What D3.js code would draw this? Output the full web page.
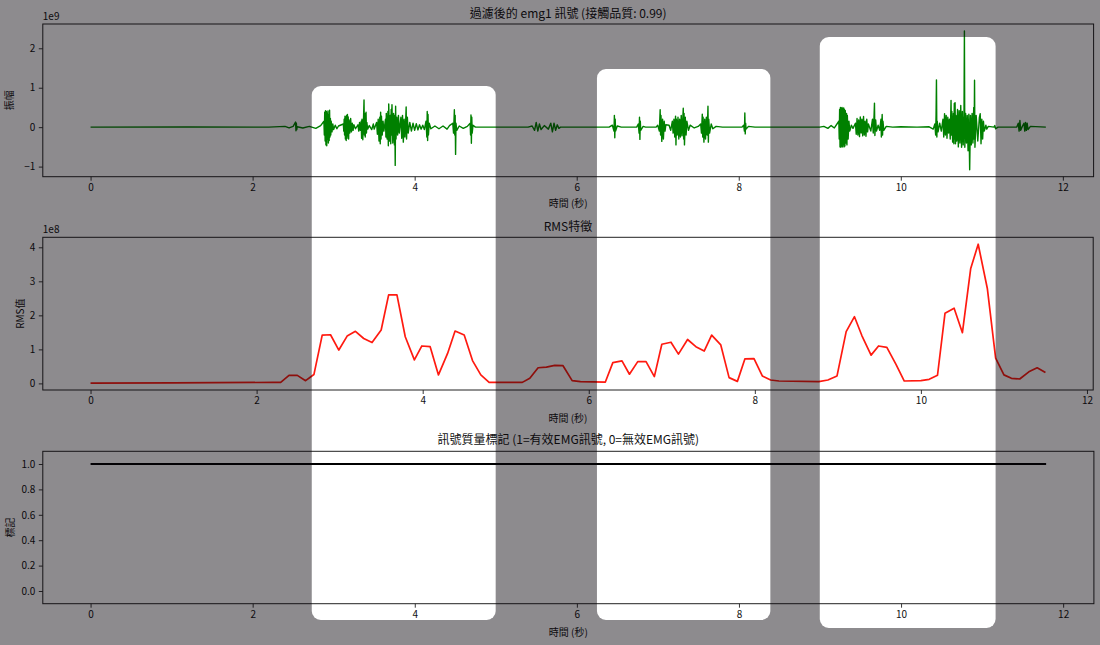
<!DOCTYPE html>
<html><head><meta charset="utf-8">
<script src="https://cdn.jsdelivr.net/npm/d3@7"></script>
<style>
body{margin:0;background:#fff;}
text{font-family:"Noto Sans CJK TC","Noto Sans",sans-serif;fill:#111;}
</style>
</head><body>
<svg id="chart" width="1100" height="645"></svg>
<script>
// ---------------- DATA ----------------
// filtered emg1 signal: [time (s), amplitude (×1e9)]
const emgSignal = [
[0,0],[1.2,0.005],[2.2,0],[2.40,0.02],[2.45,-0.02],[2.50,0.02],
[2.53,0.13],[2.535,-0.09],[2.54,0.1],[2.545,-0.06],[2.55,0.01],
[2.62,-0.02],[2.7,0.02],[2.78,-0.03],[2.84,0.04],
[2.88,0.15],[2.885,-0.2],[2.89,0.38],[2.895,-0.35],[2.90,0.42],[2.905,-0.45],[2.91,0.4],[2.915,-0.47],[2.92,0.35],[2.925,-0.3],[2.93,0.41],[2.935,-0.4],[2.94,0.3],[2.945,-0.34],[2.95,0.43],[2.955,-0.25],[2.96,0.22],[2.965,-0.2],[2.97,0.15],[2.98,-0.12],[2.99,0.08],[3.0,-0.06],[3.02,0.05],[3.04,-0.04],[3.06,0.03],
[3.12,0.08],[3.125,-0.1],[3.13,0.2],[3.135,-0.2],[3.14,0.28],[3.145,-0.3],[3.15,0.25],[3.155,-0.34],[3.16,0.3],[3.165,-0.28],[3.17,0.32],[3.175,-0.22],[3.18,0.26],[3.185,-0.3],[3.19,0.18],[3.2,-0.15],[3.21,0.22],[3.22,-0.12],[3.23,0.1],[3.24,-0.08],[3.25,0.06],[3.27,-0.04],
[3.30,0.06],[3.31,-0.1],[3.32,0.12],[3.33,-0.08],[3.34,0.15],[3.345,-0.28],[3.35,0.2],[3.36,-0.32],[3.37,0.3],[3.375,0.69],[3.38,-0.2],[3.385,0.35],[3.39,-0.25],[3.40,0.38],[3.405,-0.15],[3.41,0.12],[3.42,-0.05],[3.44,0.04],
[3.47,-0.06],[3.49,0.08],[3.5,-0.05],
[3.53,0.12],[3.54,-0.18],[3.55,0.2],[3.56,-0.35],[3.57,0.25],[3.575,-0.42],[3.58,0.38],[3.585,-0.3],[3.59,0.28],[3.60,-0.2],[3.61,0.15],[3.62,-0.1],
[3.64,0.2],[3.645,-0.25],[3.65,0.35],[3.66,-0.3],[3.67,0.4],[3.675,-0.47],[3.68,0.59],[3.69,-0.35],[3.70,0.3],[3.705,-0.42],[3.71,0.45],[3.715,-0.2],[3.72,0.57],[3.73,-0.4],[3.74,0.35],[3.75,-0.45],[3.755,0.3],[3.76,-0.97],[3.765,0.53],[3.77,-0.3],[3.78,0.25],[3.79,-0.2],[3.80,0.3],[3.81,-0.15],
[3.83,0.25],[3.84,-0.28],[3.85,0.3],[3.86,-0.38],[3.87,0.2],[3.88,-0.25],[3.89,0.22],[3.895,0.51],[3.9,-0.3],[3.91,0.25],[3.92,-0.15],[3.94,0.12],[3.96,-0.1],[3.98,0.1],[4.0,-0.08],[4.02,0.09],[4.04,-0.07],[4.06,0.06],[4.08,-0.05],[4.1,0.05],[4.12,-0.06],
[4.14,0.15],[4.15,-0.25],[4.155,0.4],[4.16,-0.34],[4.165,0.32],[4.17,-0.2],[4.18,0.1],[4.2,-0.04],[4.25,0.03],[4.3,-0.04],[4.35,0.03],[4.4,-0.05],[4.43,0.04],
[4.47,0.1],[4.48,-0.15],[4.49,0.44],[4.495,-0.2],[4.5,0.3],[4.505,-0.69],[4.51,0.1],[4.52,-0.08],[4.55,0.03],[4.6,-0.03],[4.65,0.02],
[4.685,0.1],[4.69,-0.2],[4.695,0.31],[4.70,-0.41],[4.705,0.25],[4.71,-0.15],[4.72,0.05],[4.75,0],
[5.4,0],[5.45,0.03],
[5.48,-0.08],[5.5,0.12],[5.52,-0.1],[5.54,0.08],[5.56,-0.06],[5.6,0.04],[5.65,-0.05],[5.68,0.1],[5.7,-0.12],[5.72,0.1],[5.74,-0.08],[5.76,0.06],[5.78,-0.03],[5.8,0],
[6.4,0],
[6.44,0.05],[6.46,-0.1],[6.465,0.3],[6.47,-0.27],[6.475,0.2],[6.48,-0.1],[6.5,0.03],[6.55,0],
[6.74,0],[6.76,0.08],[6.77,-0.15],[6.775,0.25],[6.78,-0.31],[6.785,0.15],[6.79,-0.08],[6.82,0.02],[6.85,0],
[6.98,0],[7.0,0.05],[7.02,-0.1],[7.03,0.44],[7.035,-0.2],[7.04,0.3],[7.05,-0.36],[7.06,0.2],[7.07,-0.3],[7.08,0.15],[7.09,-0.1],[7.1,0.06],
[7.14,0.05],[7.16,-0.08],[7.18,0.15],[7.19,-0.15],[7.2,0.2],[7.21,-0.25],[7.22,0.28],[7.225,-0.45],[7.23,0.2],[7.24,-0.2],[7.25,0.25],[7.26,-0.3],[7.27,0.2],[7.28,-0.25],[7.29,0.3],[7.30,-0.22],[7.31,0.25],[7.315,0.48],[7.32,-0.3],[7.325,0.35],[7.33,-0.45],[7.34,0.25],[7.35,-0.2],[7.36,0.15],[7.38,-0.08],[7.4,0.05],[7.45,-0.02],[7.5,0.02],
[7.53,0.08],[7.54,-0.15],[7.55,0.33],[7.555,-0.25],[7.56,0.25],[7.57,-0.38],[7.58,0.2],[7.59,-0.3],[7.6,0.25],[7.61,-0.2],[7.62,0.53],[7.625,-0.38],[7.63,0.2],[7.64,-0.15],[7.66,0.08],[7.68,-0.04],[7.72,0.02],[7.8,0],
[8.04,0],[8.06,0.05],[8.07,-0.1],[8.075,0.36],[8.08,-0.17],[8.085,0.1],[8.09,-0.05],[8.12,0.02],[8.2,0],
[9.0,0],[9.05,0.02],[9.1,-0.03],[9.14,0.04],[9.18,-0.02],
[9.235,0.15],[9.24,-0.3],[9.245,0.45],[9.25,-0.5],[9.255,0.5],[9.26,-0.51],[9.265,0.48],[9.27,-0.48],[9.275,0.5],[9.28,-0.5],[9.285,0.47],[9.29,-0.45],[9.295,0.49],[9.3,-0.5],[9.305,0.45],[9.31,-0.48],[9.315,0.42],[9.32,-0.4],[9.33,0.35],[9.335,-0.45],[9.34,0.3],[9.35,-0.3],[9.36,0.15],[9.37,-0.1],[9.39,0.05],[9.41,-0.03],
[9.44,0.1],[9.45,-0.18],[9.46,0.22],[9.47,-0.2],[9.48,0.18],[9.49,-0.24],[9.5,0.26],[9.51,-0.15],[9.52,0.2],[9.53,-0.22],[9.54,0.27],[9.55,-0.2],[9.56,0.15],[9.57,-0.23],[9.58,0.2],[9.59,-0.12],[9.6,0.08],
[9.63,-0.1],[9.65,0.2],[9.66,-0.15],[9.67,0.3],[9.675,0.61],[9.68,-0.21],[9.69,0.18],[9.7,-0.1],[9.72,0.05],
[9.74,-0.08],[9.755,0.2],[9.76,-0.25],[9.77,0.32],[9.775,-0.2],[9.78,0.15],[9.79,-0.08],[9.82,0.02],[9.9,0],
[10.0,0.01],[10.2,0],[10.35,0.01],
[10.4,-0.05],[10.42,0.08],[10.43,-0.2],[10.435,0.3],[10.44,1.2],[10.445,-0.25],[10.45,0.15],[10.46,-0.12],[10.48,0.1],[10.5,-0.1],[10.52,0.2],[10.53,-0.25],[10.54,0.34],[10.55,-0.2],[10.56,0.3],[10.57,-0.28],[10.58,0.25],[10.59,-0.15],[10.6,0.2],[10.61,-0.3],[10.62,0.68],[10.625,-0.2],[10.63,0.4],[10.64,-0.38],[10.65,0.35],[10.655,-0.42],[10.66,0.6],[10.665,-0.3],[10.67,0.62],[10.675,-0.42],[10.68,0.3],[10.69,-0.35],[10.7,0.45],[10.71,-0.5],[10.72,0.42],[10.73,-0.4],[10.74,0.55],[10.75,-0.51],[10.76,0.4],[10.77,-0.45],[10.78,0.3],[10.785,2.44],[10.79,-0.51],[10.8,0.35],[10.81,-0.4],[10.82,0.3],[10.83,-0.6],[10.84,0.33],[10.85,-1.08],[10.86,0.3],[10.87,-0.45],[10.88,0.35],[10.89,-0.4],[10.9,0.5],[10.905,-0.3],[10.91,1.19],[10.915,-0.51],[10.93,0.3],[10.95,-0.35],[10.97,0.25],[10.98,0.34],[10.99,-0.42],[11.0,0.2],[11.01,-0.3],[11.02,0.15],[11.03,-0.1],[11.05,0.05],[11.06,-0.05],[11.08,0.02],
[11.15,0],[11.16,0.04],[11.17,-0.04],[11.2,0],
[11.43,0],[11.45,0.1],[11.46,-0.1],[11.47,0.17],[11.48,-0.08],[11.5,0.02],[11.52,0.1],[11.53,-0.1],[11.54,0.12],[11.55,-0.08],[11.56,0.1],[11.57,-0.06],[11.6,0.02],[11.79,0]
];

// RMS feature: [time (s), RMS (×1e8)]
const rmsFeature = [
[0,0.01],[1.0,0.015],[2.2,0.03],[2.29,0.03],[2.39,0.235],[2.49,0.235],[2.59,0.08],[2.69,0.26],[2.79,1.42],[2.89,1.43],[2.99,0.98],[3.09,1.39],[3.19,1.53],[3.29,1.32],[3.39,1.20],[3.50,1.57],[3.59,2.60],[3.69,2.60],[3.79,1.37],[3.90,0.69],[3.99,1.10],[4.09,1.08],[4.19,0.25],[4.30,0.88],[4.39,1.54],[4.50,1.42],[4.60,0.67],[4.70,0.25],[4.80,0.03],[5.20,0.03],[5.29,0.15],[5.39,0.46],[5.49,0.48],[5.59,0.53],[5.69,0.52],[5.80,0.08],[5.90,0.05],[6.20,0.04],[6.29,0.61],[6.40,0.66],[6.49,0.27],[6.59,0.64],[6.69,0.64],[6.79,0.20],[6.88,1.15],[6.99,1.21],[7.08,0.86],[7.19,1.29],[7.29,1.08],[7.39,0.95],[7.48,1.42],[7.59,1.13],[7.69,0.17],[7.79,0.06],[7.88,0.72],[7.99,0.73],[8.09,0.22],[8.19,0.10],[8.29,0.07],[8.77,0.05],[8.88,0.10],[8.99,0.22],[9.10,1.52],[9.20,1.96],[9.29,1.40],[9.40,0.83],[9.49,1.10],[9.59,1.06],[9.70,0.56],[9.80,0.07],[10.00,0.08],[10.10,0.12],[10.20,0.24],[10.29,2.06],[10.40,2.21],[10.50,1.49],[10.60,3.38],[10.69,4.09],[10.80,2.79],[10.90,0.74],[11.00,0.25],[11.09,0.15],[11.19,0.13],[11.30,0.34],[11.40,0.46],[11.50,0.32]
];

// signal quality marker: [time (s), flag]
const qualityMarker = [[0,1],[11.79,1]];

const xTickValues = [0,2,4,6,8,10,12];
const emgYTicks = [-1,0,1,2];
const rmsYTicks = [0,1,2,3,4];
const qualityYTicks = [0,0.2,0.4,0.6,0.8,1.0];

const panelTitles = ["過濾後的 emg1 訊號 (接觸品質: 0.99)", "RMS特徵", "訊號質量標記 (1=有效EMG訊號, 0=無效EMG訊號)"];
const yLabels = ["振幅", "RMS值", "標記"];
const xLabel = "時間 (秒)";
const offsetTexts = ["1e9", "1e8", ""];

// highlighted time spans (on the time axis of the top panel)
const highlightSpans = [[2.73,5.0],[6.25,8.39],[9.0,11.17]];

// ---------------- LAYOUT ----------------
const W = 1100, H = 645;
const panels = [
  {left:42.8, right:1093.6, top:24,    bottom:176.7, titleY:17.8, xlabY:207, ylabX:8.5},
  {left:42.8, right:1093.2, top:237.3, bottom:390,   titleY:231,  xlabY:421.5, ylabX:19.5},
  {left:42.8, right:1093.9, top:451.3, bottom:603.7, titleY:444,  xlabY:635.5, ylabX:9}
];
const spotBoxes = [{top:86,bottom:620},{top:69,bottom:620},{top:37,bottom:628}];

const svg = d3.select("#chart");
svg.append("rect").attr("width",W).attr("height",H).attr("fill","#fff");

function padExtent(ext){ const r = ext[1]-ext[0]; return [ext[0]-0.05*r, ext[1]+0.05*r]; }

const series = [
  {data: emgSignal, color:"#008000", width:1.4, yTicks: emgYTicks, fmt: d3.format("d"), yDomain: padExtent(d3.extent(emgSignal, d=>d[1]))},
  {data: rmsFeature, color:"#ff1a10", width:1.7, yTicks: rmsYTicks, fmt: d3.format("d"), yDomain: padExtent(d3.extent(rmsFeature, d=>d[1]))},
  {data: qualityMarker, color:"#000", width:1.8, yTicks: qualityYTicks, fmt: d3.format(".1f"), yDomain: [-0.1, 1.1]}
];

const xScales = [];
series.forEach((s,i)=>{
  const p = panels[i];
  const x = d3.scaleLinear().domain(padExtent(d3.extent(s.data, d=>d[0]))).range([p.left, p.right]);
  const y = d3.scaleLinear().domain(s.yDomain).range([p.bottom, p.top]);
  xScales.push(x);
  const g = svg.append("g");

  // line
  g.append("path").datum(s.data)
    .attr("fill","none").attr("stroke", s.color).attr("stroke-width", s.width)
    .attr("stroke-linejoin","round")
    .attr("d", d3.line().x(d=>x(d[0])).y(d=>y(d[1])));

  // axes
  const xa = g.append("g").attr("transform",`translate(0,${p.bottom})`)
    .call(d3.axisBottom(x).tickValues(xTickValues).tickFormat(d3.format("d")).tickSize(4).tickPadding(3));
  const ya = g.append("g").attr("transform",`translate(${p.left},0)`)
    .call(d3.axisLeft(y).tickValues(s.yTicks).tickFormat(s.fmt).tickSize(4).tickPadding(3.5));
  [xa,ya].forEach(a=>{
    a.select(".domain").remove();
    a.selectAll(".tick line").attr("stroke","#222").attr("stroke-width",0.9);
    a.selectAll(".tick text").attr("font-size",10).attr("fill","#111")
      .style("font-family",'"Noto Sans CJK TC","Noto Sans",sans-serif');
  });

  // frame
  g.append("rect").attr("x",p.left).attr("y",p.top)
    .attr("width",p.right-p.left).attr("height",p.bottom-p.top)
    .attr("fill","none").attr("stroke","#222").attr("stroke-width",1);

  // titles & labels
  const cx = (p.left+p.right)/2;
  g.append("text").attr("x",cx).attr("y",p.titleY).attr("text-anchor","middle")
    .attr("font-size",12).text(panelTitles[i]);
  g.append("text").attr("x",cx).attr("y",p.xlabY).attr("text-anchor","middle")
    .attr("font-size",10).text(xLabel);
  g.append("text").attr("transform",`translate(${p.ylabX},${(p.top+p.bottom)/2}) rotate(-90)`)
    .attr("text-anchor","middle").attr("dominant-baseline","central")
    .attr("font-size",10).text(yLabels[i]);
  if (offsetTexts[i]) {
    g.append("text").attr("x",p.left).attr("y",p.top-4).attr("font-size",10).text(offsetTexts[i]);
  }
});

// ---------------- SPOTLIGHT OVERLAY ----------------
const mask = svg.append("defs").append("mask").attr("id","spot")
  .attr("maskUnits","userSpaceOnUse").attr("x",0).attr("y",0).attr("width",W).attr("height",H);
mask.append("rect").attr("width",W).attr("height",H).attr("fill","#fff");
mask.selectAll("rect.hole").data(highlightSpans).join("rect").attr("class","hole")
  .attr("x", d=>xScales[0](d[0]))
  .attr("width", d=>xScales[0](d[1])-xScales[0](d[0]))
  .attr("y", (d,i)=>spotBoxes[i].top)
  .attr("height", (d,i)=>spotBoxes[i].bottom-spotBoxes[i].top)
  .attr("rx",9).attr("ry",9).attr("fill","#000");
svg.append("rect").attr("width",W).attr("height",H)
  .attr("fill","#070309").attr("fill-opacity",0.46).attr("mask","url(#spot)");
</script>
</body></html>
